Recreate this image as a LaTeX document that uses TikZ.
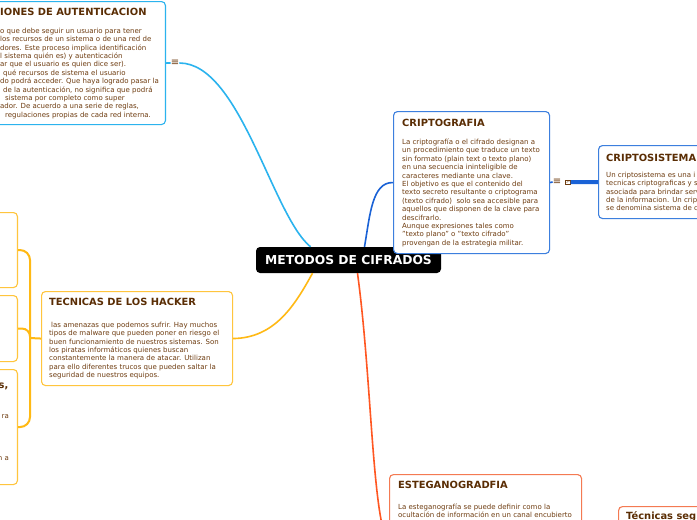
\documentclass[tikz,border=0pt]{standalone}
\usepackage{fontspec}
\setmainfont{DejaVu Sans}
\usetikzlibrary{positioning}
\definecolor{skyline}{HTML}{2BB3EE}
\definecolor{blueline}{HTML}{1A62D6}
\definecolor{bluebox}{HTML}{3C7FDE}
\definecolor{goldline}{HTML}{FFB914}
\definecolor{goldbox}{HTML}{FFC53D}
\definecolor{redline}{HTML}{FF5722}
\definecolor{redbox}{HTML}{F47A52}
\definecolor{inkbrown}{HTML}{6E3C10}
\definecolor{titlebrown}{HTML}{5A2D04}

\begin{document}
\begin{tikzpicture}[
    x=1pt, y=-1pt,
    card/.style={draw=#1, line width=1.1pt, rounded corners=4pt, fill=white, inner sep=0pt},
    ttl/.style={font=\fontsize{9.9}{11}\selectfont\bfseries, text=titlebrown, inner sep=0pt, anchor=base west},
    txt/.style={font=\fontsize{7}{8.4}\selectfont, text=inkbrown, inner sep=0pt, align=left, anchor=north west},
    wire/.style={line width=1.6pt, draw=#1},
    root/.style={fill=black, text=white, rounded corners=4pt, font=\fontsize{12.3}{14}\selectfont\bfseries, minimum width=185pt, minimum height=26pt},
    icon/.style={text=inkbrown, font=\fontsize{10}{10}\selectfont, inner sep=0pt},
    linkicon/.style={draw=inkbrown, line width=0.5pt, text=inkbrown, font=\fontsize{5}{5}\selectfont, inner sep=0.4pt},
]
    \useasboundingbox [fill=white] (0,0) rectangle (697,520);

    % Central topic
    \node [root] (root) at (348.5,260) {METODOS DE CIFRADOS};

    % Upper left branch
    \node [card=skyline, minimum width=400pt, minimum height=123pt, anchor=north east] (autent) at (166,1) {};
    \node [ttl] (autentTitle) at (0,15.5) {IONES DE AUTENTICACION};
    \node [txt] (autentText) at (0,27.7) {o que debe seguir un usuario para tener\\
        los recursos de un sistema o de una red de\\
        dores. Este proceso implica identificación\\
        l sistema quién es) y autenticación\\
        ar que el usuario es quien dice ser).\\
        \hspace*{3pt}qué recursos de sistema el usuario\\
        do podrá acceder. Que haya logrado pasar la\\
        \hspace*{3pt}de la autenticación, no significa que podrá\\
        \hspace*{5pt}sistema por completo como super\\
        ador. De acuerdo a una serie de reglas,\\
        \hspace*{5pt}regulaciones propias de cada red interna.};
    \node [icon] (autentIcon) at (175,63) {≡};

    % Upper right branch
    \node [card=bluebox, minimum width=156pt, minimum height=142pt, anchor=north west] (cripto) at (393,111) {};
    \node [ttl] (criptoTitle) at (402,126.5) {CRIPTOGRAFIA};
    \node [txt] (criptoText) at (402,138.7) {La criptografía o el cifrado designan a\\
        un procedimiento que traduce un texto\\
        sin formato (plain text o texto plano)\\
        en una secuencia ininteligible de\\
        caracteres mediante una clave.\\
        El objetivo es que el contenido del\\
        texto secreto resultante o criptograma\\
        (texto cifrado)\ \ solo sea accesible para\\
        aquellos que disponen de la clave para\\
        descifrarlo.\\
        Aunque expresiones tales como\\
        "texto plano" o "texto cifrado"\\
        provengan de la estrategia militar.};
    \node [icon] (criptoIcon) at (557,182) {≡};
    \node [linkicon] (criptoLink) at (568,182) {↗};

    \node [card=bluebox, minimum width=150pt, minimum height=73pt, anchor=north west] (criptosis) at (598,145) {};
    \node [ttl] (criptosisTitle) at (606,161.5) {CRIPTOSISTEMA};
    \node [txt] (criptosisText) at (606,171.7) {Un criptosistema es una i\\
        tecnicas criptograficas y s\\
        asociada para brindar serv\\
        de la informacion. Un crip\\
        se denomina sistema de c};

    % Left branch
    \node [card=goldbox, minimum width=191pt, minimum height=94pt, anchor=north west] (hacker) at (41,291) {};
    \node [ttl] (hackerTitle) at (49,305.5) {TECNICAS DE LOS HACKER};
    \node [txt] (hackerText) at (49,321.7) {\hspace*{2pt}las amenazas que podemos sufrir. Hay muchos\\
        tipos de malware que pueden poner en riesgo el\\
        buen funcionamiento de nuestros sistemas. Son\\
        los piratas informáticos quienes buscan\\
        constantemente la manera de atacar. Utilizan\\
        para ello diferentes trucos que pueden saltar la\\
        seguridad de nuestros equipos.};

    \node [card=goldbox, minimum width=100pt, minimum height=75pt, anchor=north east] (leafA) at (18,212) {};
    \node [card=goldbox, minimum width=100pt, minimum height=66pt, anchor=north east] (leafB) at (18,295) {};
    \node [card=goldbox, minimum width=100pt, minimum height=115pt, anchor=north east] (leafC) at (18,369) {};
    \node [ttl, anchor=base east] (leafCTitle) at (8.5,388.5) {s,};
    \node [txt, anchor=base east] (leafCLineA) at (9,418.5) {ra};
    \node [txt, anchor=base east] (leafCLineB) at (9,460.5) {n a};
    \coordinate (fork) at (30,338);

    % Lower branch
    \node [card=redbox, minimum width=192pt, minimum height=140pt, anchor=north west] (estegano) at (389,474) {};
    \node [ttl] (esteganoTitle) at (398,488.5) {ESTEGANOGRADFIA};
    \node [txt] (esteganoText) at (398,503.7) {La esteganografía se puede definir como la\\
        ocultación de información en un canal encubierto};

    \node [card=redbox, minimum width=150pt, minimum height=100pt, anchor=north west] (tecseg) at (618,506) {};
    \node [ttl] (tecsegTitle) at (626,519.5) {Técnicas seg};

    % Connectors
    \draw [wire=skyline] (autent.east) -- (autentIcon.west);
    \draw [wire=skyline] (autentIcon.east) .. controls (240,63) and (272,215) .. ([xshift=-38]root.north);
    \draw [wire=blueline] ([xshift=16]root.north) .. controls (370,215) and (372,182) .. (cripto.west);
    \draw [wire=blueline] (cripto.east) -- (criptoIcon.west);
    \draw [blueline, line width=4pt] (criptoLink.east) -- (criptosis.west);
    \draw [wire=goldline] ([xshift=-36]root.south) .. controls (295,305) and (275,338) .. (hacker.east);
    \draw [wire=goldline, line width=2pt] (hacker.west) -- (fork);
    \draw [wire=goldline, line width=2pt, rounded corners=10pt] (leafA.east) -| (fork) |- (leafC.east);
    \draw [wire=goldline, line width=2pt, rounded corners=8pt] (leafB.east) -| (fork);
    \draw [wire=redline] ([xshift=9]root.south) .. controls (372,380) and (372,520) .. (estegano.west);

\end{tikzpicture}
\end{document}
